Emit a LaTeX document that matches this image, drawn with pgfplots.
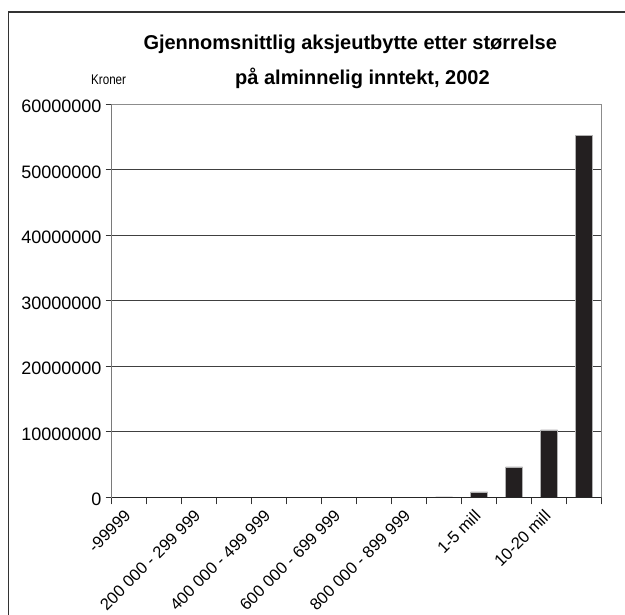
\documentclass[border=0pt]{standalone}
\usepackage{fontspec}
\setmainfont{Liberation Sans}
\newfontfamily\narrowfont[FakeStretch=0.83]{Liberation Sans}
\usepackage{pgfplots}
\pgfplotsset{compat=1.18}
\definecolor{barcol}{RGB}{35,31,32}

\begin{document}
\begin{tikzpicture}[x=1pt,y=1pt]
\useasboundingbox (0,0) rectangle (625,615);
\fill[white] (0,0) rectangle (625,615);
\draw[line width=1.3pt, black!80] (8.3,-10) -- (8.3,603) -- (640,603);
\node[anchor=base west, inner sep=0, font=\fontsize{20}{24}\selectfont\bfseries] at (143.3,565) {Gjennomsnittlig aksjeutbytte etter størrelse};
\node[anchor=base west, inner sep=0, font=\fontsize{20}{24}\selectfont\bfseries] at (235,530) {på alminnelig inntekt, 2002};
\node[anchor=base west, inner sep=0, font=\narrowfont\fontsize{14}{16}\selectfont] at (91,530) {Kroner};
\begin{axis}[
  at={(111.7pt,117.7pt)}, anchor=south west,
  scale only axis, width=489.8pt, height=393.3pt,
  xmin=0, xmax=14, ymin=0, ymax=60000000,
  ybar, bar width=17pt,
  axis line style={black!45},
  ymajorgrids, grid style={black!75, line width=0.8pt},
  scaled y ticks=false,
  ytick={0,10000000,20000000,30000000,40000000,50000000,60000000},
  yticklabels={0,10000000,20000000,30000000,40000000,50000000,60000000},
  xtick={0.5,2.5,4.5,6.5,8.5,10.5,12.5},
  xticklabels={-99999,200 000 - 299 999,400 000 - 499 999,600 000 - 699 999,800 000 - 899 999,1-5 mill,10-20 mill},
  minor xtick={0,1,...,14},
  tick pos=left,
  tick align=outside,
  major tick length=6pt, minor tick length=7pt,
  tick style={black!80, line width=0.8pt},
  major x tick style={draw=none},
  yticklabel style={font=\fontsize{18}{20}\selectfont, inner sep=0pt, xshift=-4pt, yshift=-2.5pt},
  xticklabel style={font=\fontsize{16.5}{20}\selectfont, xshift=-5.8pt, yshift=-5.2pt, rotate=45, anchor=north east, inner sep=0pt},
]
\addplot[fill=barcol, draw=black!30] table {
x y
0.5 3000
1.5 2000
2.5 3000
3.5 4000
4.5 6000
5.5 9000
6.5 14000
7.5 22000
8.5 35000
9.5 60000
10.5 820000
11.5 4640000
12.5 10300000
13.5 55200000
};
\draw[black!85, line width=0.8pt] (axis cs:0,0) -- (axis cs:14,0);
\draw[black!65, line width=0.8pt] (axis cs:0,0) -- (axis cs:0,60000000);
\end{axis}
\end{tikzpicture}
\end{document}
